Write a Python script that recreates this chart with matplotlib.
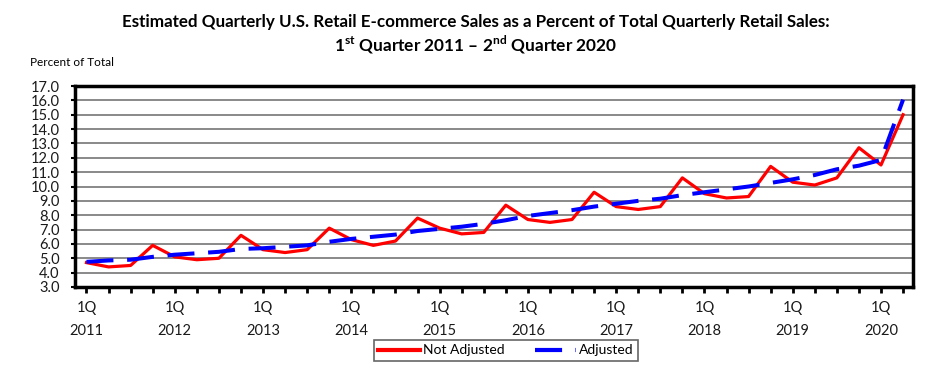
import matplotlib
matplotlib.use("Agg")
import matplotlib.pyplot as plt
from matplotlib.lines import Line2D

# ---- data ----
not_adjusted = [4.7, 4.4, 4.5, 5.9, 5.1, 4.9, 5.0, 6.6,
                5.6, 5.4, 5.6, 7.1, 6.3, 5.9, 6.2, 7.8,
                7.1, 6.7, 6.8, 8.7, 7.7, 7.5, 7.7, 9.6,
                8.6, 8.4, 8.6, 10.6, 9.5, 9.2, 9.3, 11.4,
                10.3, 10.1, 10.6, 12.7, 11.5, 15.0]
adjusted = [4.75, 4.85, 4.9, 5.1, 5.25, 5.35, 5.45, 5.65,
            5.7, 5.8, 5.9, 6.15, 6.35, 6.5, 6.65, 6.9,
            7.05, 7.2, 7.4, 7.65, 7.95, 8.15, 8.35, 8.6,
            8.8, 9.0, 9.15, 9.4, 9.6, 9.8, 10.0, 10.25,
            10.5, 10.8, 11.2, 11.45, 11.85, 16.05]
years = list(range(2011, 2021))
y_ticks = [3.0 + k for k in range(15)]
title1 = "Estimated Quarterly U.S. Retail E-commerce Sales as a Percent of Total Quarterly Retail Sales:"
title2 = r"1$^{\mathbf{st}}$ Quarter 2011 – 2$^{\mathbf{nd}}$ Quarter 2020"
y_label = "Percent of Total"
series_names = ["Not Adjusted", "Adjusted"]

FONT = "Lato"
plt.rcParams["font.family"] = [FONT, "DejaVu Sans"]
plt.rcParams["mathtext.fontset"] = "custom"
plt.rcParams["mathtext.rm"] = FONT
plt.rcParams["mathtext.bf"] = FONT + ":bold"

fig = plt.figure(figsize=(9.46, 3.83), dpi=100)
ax = fig.add_axes([75 / 946, 1 - 287 / 383, 838 / 946, 201 / 383])

x = list(range(len(not_adjusted)))
red_line, = ax.plot(x, not_adjusted, color="#ff0000", lw=2.3, zorder=3)
blue_line, = ax.plot(x, adjusted, color="#0000ff", lw=2.9, zorder=4)
blue_line.set_dashes((6.7, 3.4))

ax.set_xlim(-0.52, 37.45)
ax.set_ylim(3.0, 17.0)
ax.set_yticks(y_ticks)
ax.set_yticklabels([f"{v:.1f}" for v in y_ticks], fontsize=10.5, color="#1a1a1a")
ax.yaxis.grid(True, color="#808080", lw=1.3)
ax.set_axisbelow(True)

ax.set_xticks(x)
xlabels = []
for i in x:
    if i % 4 == 0:
        xlabels.append(f"1Q\n{years[i // 4]}")
    else:
        xlabels.append("")
ax.set_xticklabels(xlabels, fontsize=10.5, color="#1a1a1a", linespacing=1.85)
ax.tick_params(axis="x", direction="out", length=4, width=2, pad=6)
ax.tick_params(axis="y", length=3, width=1.5, pad=8)

for s in ax.spines.values():
    s.set_linewidth(2.5)
    s.set_color("black")

fig.text(0.503, 1 - 22 / 383, title1, ha="center", va="center", fontsize=12.25, fontweight="bold")
fig.text(0.503, 1 - 45 / 383, title2, ha="center", va="center", fontsize=12.4, fontweight="bold")
fig.text(30 / 946, 1 - 62 / 383, y_label, ha="left", va="center", fontsize=8.5)

red_proxy = Line2D([], [], color="#ff0000", lw=3.0)
blue_proxy = Line2D([], [], color="#0000ff", lw=3.0)
blue_proxy.set_dashes((6.5, 3.2, 0.6, 30))
leg = fig.legend(handles=[red_proxy, blue_proxy], labels=series_names,
                 loc="center", bbox_to_anchor=(506 / 946, 1 - 350.5 / 383), ncol=2,
                 fontsize=10, frameon=True, fancybox=False, handlelength=3.0,
                 handletextpad=0.2, columnspacing=2.2, borderpad=0.3)
leg.get_frame().set_edgecolor("#404040")
leg.get_frame().set_linewidth(1.2)

fig.savefig("out.png", dpi=100)
